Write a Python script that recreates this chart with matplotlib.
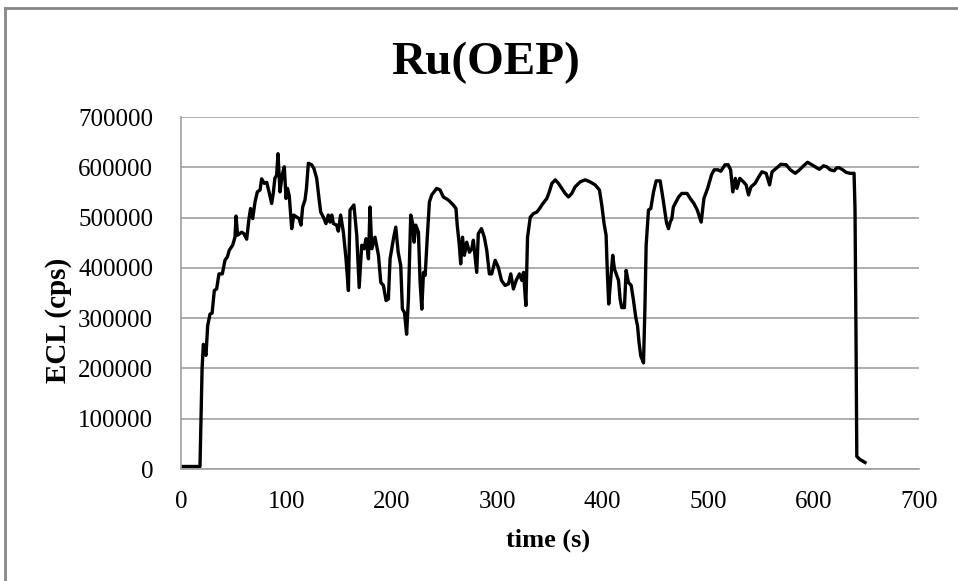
import matplotlib.pyplot as plt
from matplotlib.lines import Line2D
from matplotlib.ticker import MultipleLocator

# time (s) and ECL signal (thousand cps)
time_s = [0, 18, 20, 21.2, 23.7, 25.3, 27.5, 29.5, 31.6, 33.8, 36, 39.2, 41.7, 44, 45.8,
          49, 51.2, 52.2, 53.7, 57.5, 59.7, 62.3, 64.5, 66, 68, 70.2, 72.4, 75, 76.5, 79,
          81.3, 83.5, 86, 87.5, 89, 90.7, 92, 93.9, 96, 98, 99.6, 101, 102.7, 105, 107,
          109.7, 112, 113.8, 115.4, 117.6, 119, 120.8, 124, 126, 128.7, 130.9, 132.5, 135,
          137.5, 139.7, 141.3, 143, 144.6, 147.6, 149.2, 151.4, 154, 156.5, 158.8, 160.3,
          164, 166.7, 169, 171.4, 173.6, 175.5, 177.8, 179.3, 181, 184, 187.3, 189.5, 192,
          194.5, 196.7, 198.3, 201.5, 203.7, 206, 208.4, 210, 212, 214, 215.7, 217.9, 219.8,
          221.1, 222.7, 225.2, 226.8, 228.4, 230, 231.6, 233.7, 235.6, 237.8, 242.5, 245.7,
          248.8, 253.5, 258.3, 260.8, 262, 264, 265.3, 267, 268.8, 271, 273.6, 275.8, 277.3,
          280.5, 282, 285, 287.7, 290, 292.5, 294.7, 298, 301, 304, 307.4, 310.6, 312.8,
          315.3, 317.9, 321, 323.3, 324.9, 327.1, 328.7, 331.3, 334.4, 337.6, 340.1, 343.3,
          347, 349.3, 351.8, 355, 358, 361.2, 364.4, 367.5, 370.7, 373.8, 378.6, 383.3, 388,
          392.8, 396.9, 399.1, 401.3, 403.2, 404.5, 405.7, 407.6, 409.5, 411.1, 413.3, 415,
          416.5, 418, 420.6, 422.2, 424.4, 427, 429, 431.4, 433, 434.5, 436.1, 438.7, 440,
          441.2, 443.4, 445.6, 448.2, 450.7, 454.5, 457, 460.5, 462.4, 464, 465.6, 467, 472,
          475, 480, 483, 486.5, 489.7, 493.4, 496, 499.5, 503.2, 505.7, 509.3, 512, 516, 519,
          521.3, 523.4, 525.8, 527.3, 530, 533.5, 536, 538.3, 540.6, 544.5, 548, 551, 555,
          558.3, 560.6, 564.6, 569, 574, 578, 582.6, 586.7, 590.5, 594.3, 598.4, 603, 605.6,
          609.4, 612.5, 615.8, 619.6, 622, 624.5, 627.6, 630.8, 634.6, 638.4, 639.3, 640.3,
          641, 644, 648.8]
ecl_k = [5, 5, 200, 248, 226, 285, 308, 310, 355, 358, 388, 388, 415, 422, 435,
         445, 461, 503, 465, 471, 468, 457, 498, 518, 498, 531, 551, 555, 577, 568,
         570, 551, 528, 548, 578, 584, 627, 551, 585, 601, 538, 558, 543, 478, 505,
         501, 498, 485, 521, 535, 558, 608, 605, 598, 578, 538, 511, 501,
         488, 505, 491, 505, 488, 485, 473, 505, 471, 418, 355, 515,
         525, 465, 361, 445, 438, 458, 418, 521, 438, 461, 425, 371, 365,
         335, 338, 418, 458, 481, 431, 405, 318, 311, 268, 338, 505, 488,
         451, 485, 471, 371, 318, 391, 385, 465, 531, 545, 558, 555,
         541, 535, 525, 518, 485, 445, 408, 461, 425, 451, 431, 438, 455,
         391, 468, 478, 461, 435, 388, 388, 415, 401, 375, 365, 368, 388,
         358, 375, 388, 375, 391, 325, 461, 501, 508, 511, 518, 528,
         538, 551, 568, 575, 568, 558, 548, 541, 548, 561, 571, 575, 571,
         565, 555, 525, 488, 465, 385, 328, 378, 425, 398, 385, 375,
         338, 321, 321, 395, 371, 365, 338, 301, 285, 251, 225, 211, 318,
         445, 515, 518, 551, 573, 573, 540, 490, 478, 491, 498, 521, 541,
         548, 548, 538, 528, 515, 491, 538, 558, 585, 595, 595, 592, 605, 605,
         595, 551, 578, 558, 578, 571, 565, 545, 561, 568, 581, 591, 588,
         565, 591, 598, 606, 605, 595, 588, 595, 603, 610, 605, 599, 596,
         603, 601, 595, 593, 599, 599, 595, 590, 588, 588, 518, 251,
         25, 19, 13]
ecl = [v * 1000 for v in ecl_k]

plt.rcParams['font.family'] = ['Liberation Serif', 'DejaVu Serif']

fig = plt.figure(figsize=(9.58, 5.81), dpi=100)
ax = fig.add_axes([181 / 958, 1 - 469 / 581, 738 / 958, 352 / 581])

ax.plot(time_s, ecl, color='black', lw=2.4, solid_joinstyle='round')

ax.set_xlim(0, 700)
ax.set_ylim(0, 700000)
ax.xaxis.set_major_locator(MultipleLocator(100))
ax.yaxis.set_major_locator(MultipleLocator(100000))
ax.yaxis.grid(True, color='#a0a0a0', lw=1.2)
ax.set_axisbelow(True)
for s in ['top', 'right']:
    ax.spines[s].set_visible(False)
for s in ['left', 'bottom']:
    ax.spines[s].set_color('#a0a0a0')
    ax.spines[s].set_linewidth(1.2)
ax.tick_params(length=0, labelsize=18)
ax.tick_params(axis='x', pad=16)
ax.tick_params(axis='y', pad=20)

fig.text(486 / 958, 1 - 74 / 581, 'Ru(OEP)', ha='center', va='baseline',
         fontsize=34, fontweight='bold')
fig.text(548 / 958, 1 - 547 / 581, 'time (s)', ha='center', va='baseline',
         fontsize=19, fontweight='bold')
fig.text(58 / 958, 1 - 320 / 581, 'ECL (cps)', ha='center', va='center',
         rotation=90, fontsize=21, fontweight='bold')

# chart border (top and left edges visible)
fig.add_artist(Line2D([5 / 958, 5 / 958], [0, 1 - 8 / 581], color='#888888', lw=2))
fig.add_artist(Line2D([5 / 958, 1], [1 - 8 / 581, 1 - 8 / 581], color='#888888', lw=2))

fig.savefig('out.png', dpi=100)
